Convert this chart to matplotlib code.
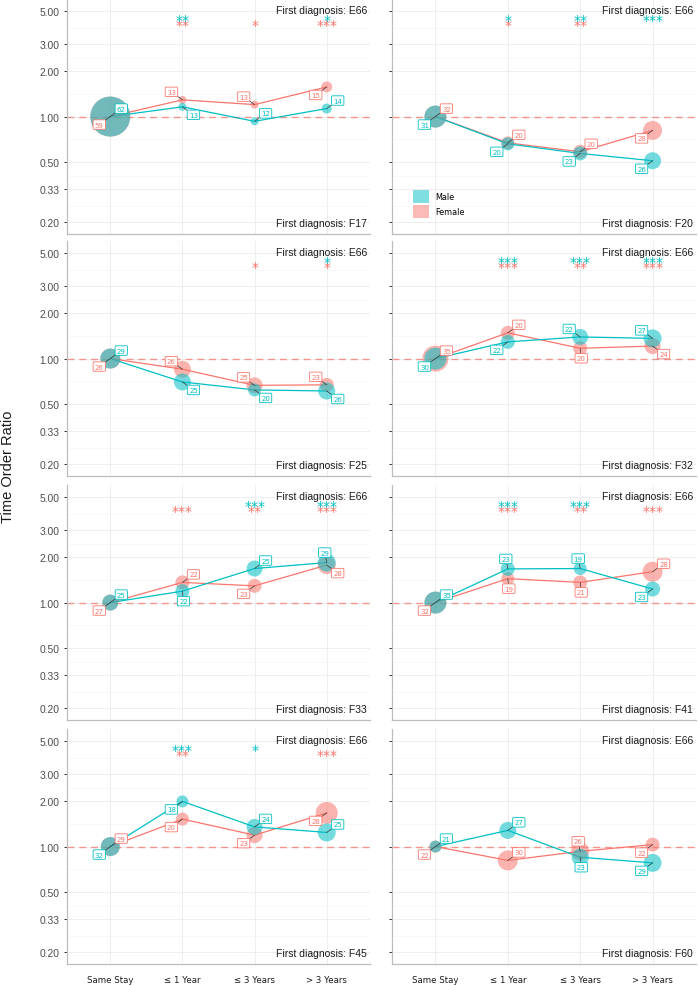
import numpy as np
import matplotlib
matplotlib.use("Agg")
import matplotlib.pyplot as plt
from matplotlib.patches import Patch
from matplotlib.ticker import NullFormatter, FixedLocator

# ---------------- data ----------------
categories = ["Same Stay", "\u2264 1 Year", "\u2264 3 Years", "> 3 Years"]
diagnoses = ["F17", "F20", "F25", "F32", "F33", "F41", "F45", "F60"]
reference_diag = "E66"

male_ratio = [
    [1.00, 1.16, 0.93, 1.13],
    [1.00, 0.66, 0.57, 0.51],
    [1.00, 0.70, 0.62, 0.61],
    [1.00, 1.29, 1.39, 1.36],
    [1.00, 1.19, 1.68, 1.84],
    [1.00, 1.67, 1.68, 1.23],
    [1.00, 1.99, 1.35, 1.24],
    [1.00, 1.28, 0.85, 0.78],
]
female_ratio = [
    [1.00, 1.29, 1.20, 1.57],
    [1.00, 0.67, 0.585, 0.81],
    [1.00, 0.85, 0.665, 0.67],
    [1.00, 1.48, 1.17, 1.21],
    [1.00, 1.36, 1.29, 1.77],
    [1.00, 1.44, 1.36, 1.60],
    [1.00, 1.52, 1.19, 1.67],
    [1.00, 0.81, 0.93, 1.03],
]
male_label = [
    [62, 13, 12, 14], [31, 20, 23, 26], [29, 25, 20, 26], [30, 22, 22, 27],
    [25, 22, 25, 29], [35, 23, 19, 23], [32, 18, 24, 25], [21, 27, 23, 29],
]
female_label = [
    [59, 13, 13, 15], [32, 20, 20, 28], [26, 26, 25, 23], [35, 20, 20, 24],
    [27, 22, 23, 28], [32, 19, 21, 28], [29, 20, 23, 28], [22, 30, 26, 22],
]
# relative group size (bubble radius scale)
male_group = [
    [20, 4, 4, 5], [11, 6.5, 7, 8.5], [10, 8.5, 6.5, 8.5], [11, 7, 8, 9],
    [8, 7, 8, 9], [11, 7, 6.5, 7.5], [9.5, 6, 8, 9], [6, 8.5, 8.5, 9],
]
female_group = [
    [20, 4, 4, 5.5], [11, 6.5, 7, 9.5], [10, 8.5, 8, 7], [13, 7, 7, 8],
    [8, 7, 7, 9], [11, 6.5, 7, 10], [9.5, 6.5, 8, 11], [6, 10, 9, 7],
]
male_sig = [
    ["", "**", "", "*"], ["", "*", "**", "***"], ["", "", "", "*"],
    ["", "***", "***", "***"], ["", "", "***", "***"], ["", "***", "***", ""],
    ["", "***", "*", ""], ["", "", "", ""],
]
female_sig = [
    ["", "**", "*", "***"], ["", "*", "**", ""], ["", "", "*", "*"],
    ["", "***", "**", "***"], ["", "***", "**", "***"], ["", "***", "**", "***"],
    ["", "**", "", "***"], ["", "", "", ""],
]

# ---------------- layout (label placement) ----------------
male_dir = [
    ["ur", "lr", "ur", "ur"], ["ll", "ll", "ll", "ll"], ["ur", "lr", "lr", "lr"],
    ["ll", "ll", "ul", "ul"], ["ur", "d", "ur", "u"], ["ur", "u", "u", "ll"],
    ["ll", "ll", "ur", "ur"], ["ur", "ur", "d", "ll"],
]
female_dir = [
    ["ll", "ul", "ul", "ll"], ["ur", "ur", "ur", "ll"], ["ll", "ul", "ul", "ul"],
    ["ur", "ur", "d", "lr"], ["ll", "ur", "ll", "lr"], ["ll", "d", "d", "ur"],
    ["ur", "ll", "ll", "ll"], ["ll", "ur", "u", "ll"],
]
offsets = {"ur": (11, 8), "ul": (-11, 8), "lr": (11, -8), "ll": (-11, -8),
           "u": (-2, 10), "d": (1, -10)}

MALE = "#00BFC4"
FEMALE = "#F8766D"
W, H = 699, 987
PX = 0.72  # points per pixel at dpi 100

fig = plt.figure(figsize=(W / 100, H / 100), dpi=100)
fig.patch.set_facecolor("white")

col_x = [67, 392]
col_w = [303, 304]
row_top = [0, 242, 486, 730]
ph = 235
yticks = [0.2, 0.33, 0.5, 1, 2, 3, 5]
minor_ticks = [np.sqrt(a * b) for a, b in zip(yticks[:-1], yticks[1:])]
x = np.arange(len(categories))

for i, d in enumerate(diagnoses):
    r, c = divmod(i, 2)
    ax = fig.add_axes([col_x[c] / W, 1 - (row_top[r] + ph) / H, col_w[c] / W, ph / H])
    ax.set_yscale("log")
    ax.set_ylim(0.167, 6.0)
    ax.set_xlim(-0.6, 3.6)
    ax.yaxis.set_major_locator(FixedLocator(yticks))
    ax.yaxis.set_minor_locator(FixedLocator(minor_ticks))
    ax.yaxis.set_minor_formatter(NullFormatter())
    ax.set_yticklabels([f"{v:.2f}" for v in yticks] if c == 0 else [])
    ax.set_xticks(x)
    if r == 3:
        ax.set_xticklabels(categories, fontsize=6.2, family="DejaVu Sans", color="#1A1A1A")
    else:
        ax.set_xticklabels([])
    ax.tick_params(axis="x", length=0, pad=8)
    ax.tick_params(axis="y", which="major", length=2.4, width=0.7, color="#333333",
                   labelsize=7.4, labelcolor="#4D4D4D", pad=3)
    for lab in ax.get_yticklabels():
        lab.set_family("Liberation Sans")
    ax.tick_params(axis="y", which="minor", length=0)
    ax.set_axisbelow(True)
    ax.grid(which="major", color="#EBEBEB", lw=0.6)
    ax.grid(which="minor", axis="y", color="#F3F3F3", lw=0.4)
    for s in ["top", "right"]:
        ax.spines[s].set_visible(False)
    for s in ["left", "bottom"]:
        ax.spines[s].set_color("#BDBDBD")
        ax.spines[s].set_linewidth(0.9)

    ax.axhline(1.0, color=FEMALE, lw=1.0, alpha=0.75, dashes=(5, 3.5), zorder=1)

    for ratio, grp, lab, dirs, sig, col, ystar in [
        (female_ratio[i], female_group[i], female_label[i], female_dir[i], female_sig[i], FEMALE, 4.06),
        (male_ratio[i], male_group[i], male_label[i], male_dir[i], male_sig[i], MALE, 4.38),
    ]:
        ax.plot(x, ratio, color=col, lw=0.9, zorder=2)
        ax.scatter(x, ratio, s=[(2 * PX * g) ** 2 for g in grp], color=col, alpha=0.55,
                   linewidths=0, zorder=3)
        for xi, yi, n, dr in zip(x, ratio, lab, dirs):
            dx, dy = offsets[dr]
            ax.annotate(str(n), xy=(xi, yi), xytext=(dx * PX, dy * PX),
                        textcoords="offset points", ha="center", va="center",
                        fontsize=5, color=col, family="DejaVu Sans",
                        bbox=dict(boxstyle="round,pad=0.25,rounding_size=0.15", fc="white",
                                  ec=col, lw=0.6),
                        arrowprops=dict(arrowstyle="-", color="#333333", lw=0.5,
                                        shrinkA=0, shrinkB=0),
                        zorder=6)
        for xi, st in zip(x, sig):
            if st:
                ax.text(xi, ystar, st, ha="center", va="center", fontsize=10,
                        color=col, family="DejaVu Sans", zorder=4)

    ax.text(0.99, 1 - 11 / ph, f"First diagnosis: {reference_diag}", transform=ax.transAxes,
            ha="right", va="center", fontsize=7.5, family="Liberation Sans", color="#1A1A1A")
    ax.text(0.99, 11 / ph, f"First diagnosis: {d}", transform=ax.transAxes,
            ha="right", va="center", fontsize=7.5, family="Liberation Sans", color="#1A1A1A")

    if i == 1:
        handles = [Patch(facecolor=MALE, alpha=0.5, edgecolor="none"),
                   Patch(facecolor=FEMALE, alpha=0.5, edgecolor="none")]
        ax.legend(handles, ["Male", "Female"], loc="upper left",
                  bbox_to_anchor=((413 - 392) / 304, 1 - 190.7 / ph),
                  frameon=False, prop={"family": "DejaVu Sans", "size": 5.8},
                  handlelength=2.0, handleheight=2.2, handletextpad=0.8,
                  labelspacing=0.2, borderpad=0, borderaxespad=0)

fig.text(8 / W, 1 - 467 / H, "Time Order Ratio", rotation=90, ha="center", va="center",
         fontsize=10.5, family="Liberation Sans", color="#1A1A1A")

fig.savefig("out.png", dpi=100, facecolor="white")
